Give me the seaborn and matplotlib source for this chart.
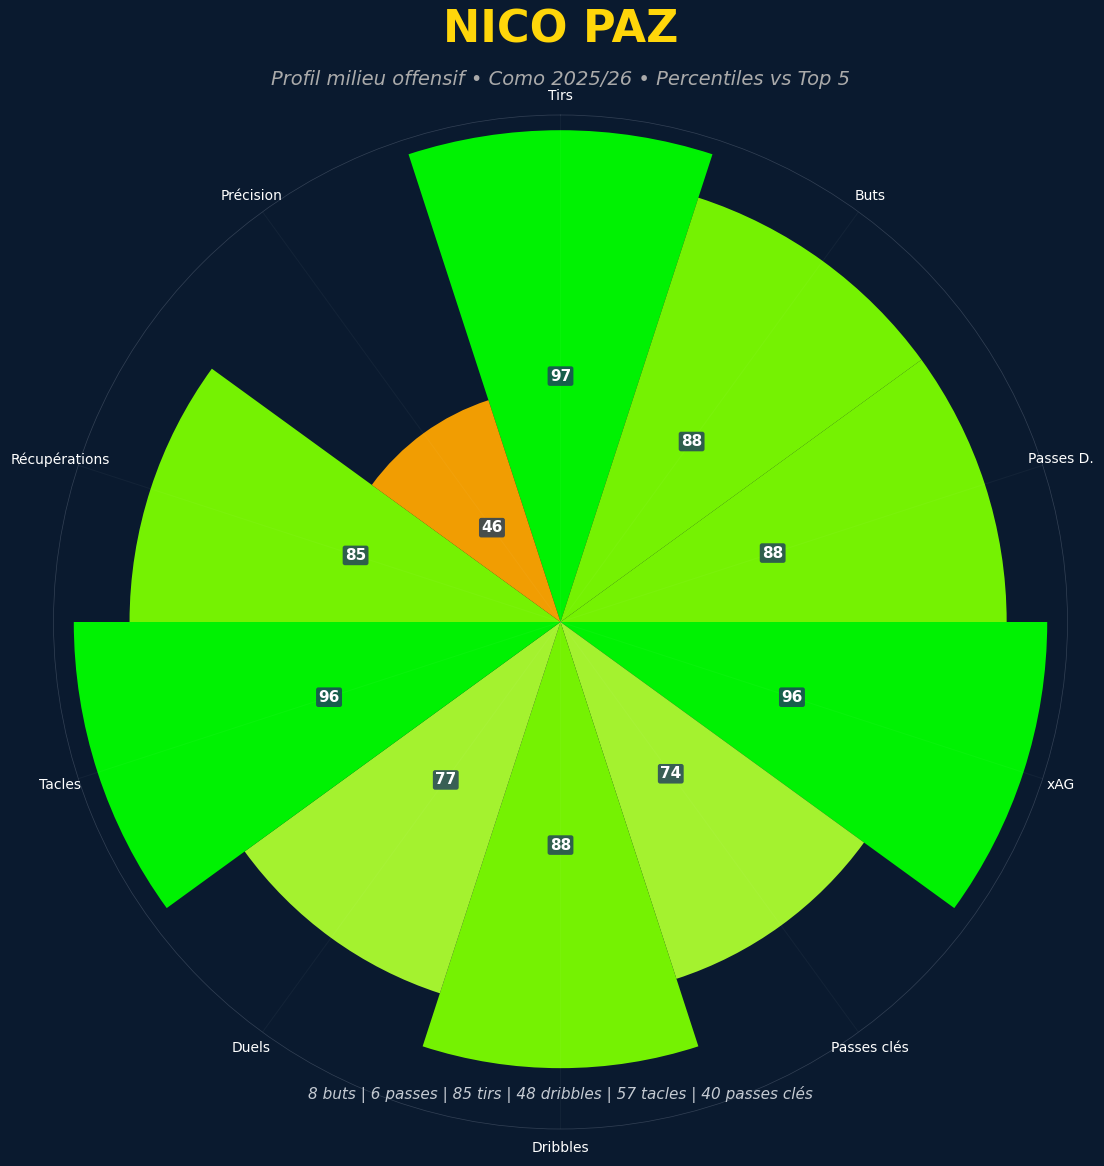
import numpy as np
import pandas as pd
import matplotlib
matplotlib.use('Agg')
import matplotlib.pyplot as plt
import seaborn as sns

# profile data, clockwise from the top
metrics = ['Tirs', 'Buts', 'Passes D.', 'xAG', 'Passes clés',
           'Dribbles', 'Duels', 'Tacles', 'Récupérations', 'Précision']
percentiles = [97, 88, 88, 96, 74, 88, 77, 96, 85, 46]
bar_colors = ['#00FF00', '#7CFF00', '#7CFF00', '#00FF00', '#ADFF2F',
              '#7CFF00', '#ADFF2F', '#00FF00', '#7CFF00', '#FFA500']

title = 'NICO PAZ'
subtitle = 'Profil milieu offensif • Como 2025/26 • Percentiles vs Top 5'
footer = '8 buts | 6 passes | 85 tirs | 48 dribbles | 57 tacles | 40 passes clés'

bg = '#0A1A2F'

sns.set_theme(style='dark', rc={'figure.facecolor': bg, 'axes.facecolor': bg})
plt.rcParams['font.family'] = ['DejaVu Sans']

df = pd.DataFrame({'metric': metrics, 'value': percentiles})
df['angle'] = np.linspace(0, 2 * np.pi, len(df), endpoint=False)

W, H = 1104, 1166
fig = plt.figure(figsize=(W / 100, H / 100), dpi=100, facecolor=bg)
ax = fig.add_axes([53.5 / W, (H - 622 - 507) / H, 1014 / W, 1014 / H], projection='polar')
ax.set_facecolor(bg)
ax.set_theta_zero_location('N')
ax.set_theta_direction(-1)

sns.barplot(data=df, x='angle', y='value', hue='metric', palette=bar_colors,
            native_scale=True, dodge=False, width=1, saturation=1, linewidth=0,
            alpha=0.95, legend=False, ax=ax)

ax.set_xlabel('')
ax.set_ylabel('')
ax.set_xlim(0, 2 * np.pi)
ax.set_ylim(0, 100)
ax.set_yticks([])
ax.set_xticks(df['angle'].values)
ax.set_xticklabels(df['metric'], color='white', fontsize=10)
ax.tick_params(axis='x', pad=7, length=0)
ax.set_axisbelow(False)
ax.grid(True, axis='x', color='white', alpha=0.035, linewidth=0.8)
ax.spines['polar'].set_color('#334155')
ax.spines['polar'].set_linewidth(0.5)

for ang, val in zip(df['angle'], df['value']):
    ax.text(ang, val / 2, str(val), color='white', fontsize=11, fontweight='bold',
            ha='center', va='center',
            bbox=dict(boxstyle='round,pad=0.15', facecolor='#1E3A5F', alpha=0.8, edgecolor='none'))

fig.text(0.5075, 0.9745, title, color='#FFD60A', fontsize=32, fontweight='bold', ha='center', va='center')
fig.text(0.5075, 0.9318, subtitle, color='#AAAAAA', fontsize=14, style='italic', ha='center', va='center')
fig.text(0.5075, 0.0615, footer, color='#C4CAD2', fontsize=11, style='italic', ha='center', va='center')

fig.savefig('out.png', dpi=100, facecolor=bg)
